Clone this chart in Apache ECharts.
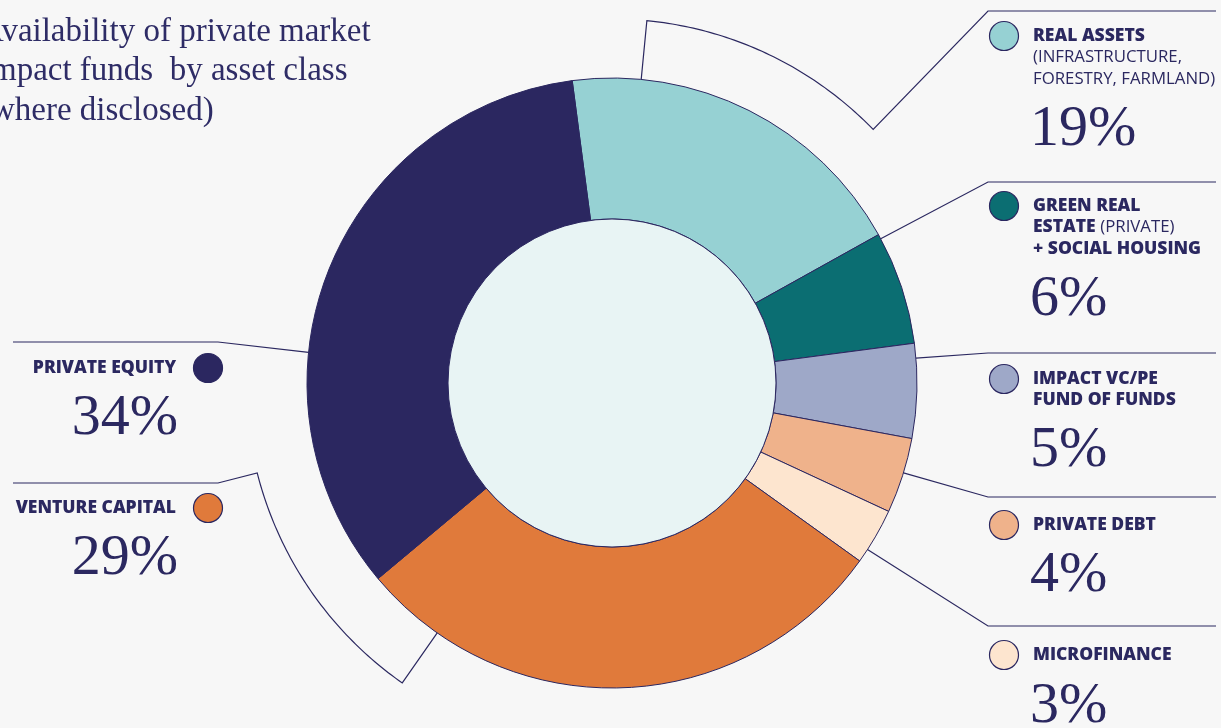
<!DOCTYPE html>
<html><head><meta charset="utf-8">
<script src="https://cdn.jsdelivr.net/npm/echarts@6/dist/echarts.min.js"></script>
<style>html,body{margin:0;padding:0;background:#f7f7f7;overflow:hidden}#c{width:1221px;height:728px}</style>
</head><body><div id="c"></div>
<script>
// ---------- data ----------
const categories = ['Real assets','Green real estate + social housing','Impact VC/PE fund of funds','Private debt','Microfinance','Venture capital','Private equity'];
const values = [19, 6, 5, 4, 3, 29, 34];
const colors = ['#96d1d3','#0b6e72','#9ea8c8','#efb28b','#fde5cf','#e07a3b','#2b2760'];
const labelTexts = [
  '{b|REAL ASSETS}\n{r|(INFRASTRUCTURE,}\n{r|FORESTRY, FARMLAND)}',
  '{b|GREEN REAL}\n{b|ESTATE }{r|(PRIVATE)}\n{b|+ SOCIAL HOUSING}',
  '{b|IMPACT VC/PE}\n{b|FUND OF FUNDS}',
  '{b|PRIVATE DEBT}',
  '{b|MICROFINANCE}',
  '{b|VENTURE CAPITAL}',
  '{b|PRIVATE EQUITY}'
];
const titleLines = ['Availability of private market', 'Impact funds  by asset class', '(where disclosed)'];

// ---------- layout / style ----------
const INK = '#2b2860';
const PIE_CENTER = [612, 383], R_IN = 164, R_OUT = 305, START = 97.5;
const layout = [
  {side:'right', labelY:36,  pctY:130, frac:0.19, bracketR:364, bracketTo:0.78, elbow:[988,11],  endX:1216},
  {side:'right', labelY:206, pctY:300, frac:0.04, elbow:[988,182], endX:1216},
  {side:'right', labelY:379, pctY:451, frac:0.156, elbow:[988,353], endX:1216},
  {side:'right', labelY:525, pctY:576, frac:0.46, elbow:[988,497], endX:1216},
  {side:'right', labelY:655, pctY:707, frac:0.76, elbow:[988,626], endX:1216},
  {side:'left',  labelY:508, pctY:559, frac:0.855, bracketR:366, bracketTo:1.246, elbow:[218,483], endX:13},
  {side:'left',  labelY:368, pctY:419, frac:0.373, elbow:[218,342], endX:13}
];

const chart = echarts.init(document.getElementById('c'), null, {renderer:'canvas'});
chart.setOption({
  backgroundColor:'#f7f7f7',
  animation:false,
  series:[
    {type:'pie', center:PIE_CENTER, radius:[R_IN, R_OUT], startAngle:START, clockwise:true,
     avoidLabelOverlap:false, silent:true, label:{show:false}, labelLine:{show:false},
     itemStyle:{borderColor:'#2b2760', borderWidth:1},
     data: categories.map((n,i)=>({name:n, value:values[i], itemStyle:{color:colors[i]}}))},
    {type:'pie', center:PIE_CENTER, radius:[0, R_IN], silent:true, label:{show:false}, labelLine:{show:false},
     itemStyle:{color:'#e8f4f4', borderColor:'#2b2760', borderWidth:1},
     data:[{name:'hole', value:1}]}
  ]
});

let lay = null;
try {
  const d = chart.getModel().getSeriesByIndex(0).getData();
  lay = values.map((v,i)=>d.getItemLayout(i));
  if (!lay[0] || lay[0].startAngle == null) lay = null;
} catch(e) { lay = null; }
if (!lay) {
  const tot = values.reduce((a,b)=>a+b,0);
  let a = -START*Math.PI/180;
  lay = values.map(v=>{const s=a; a += v/tot*Math.PI*2; return {cx:PIE_CENTER[0],cy:PIE_CENTER[1],r:R_OUT,r0:R_IN,startAngle:s,endAngle:a};});
}
function pt(L, f, r){ const a = L.startAngle + f*(L.endAngle-L.startAngle); return [L.cx + r*Math.cos(a), L.cy + r*Math.sin(a)]; }

const elements = [];
titleLines.forEach((t,k)=>{
  elements.push({type:'text', x:-20, y:32+k*39.5, silent:true,
    style:{text:t, fill:'#2e2c66', fontFamily:'Liberation Serif', fontSize:33, align:'left', verticalAlign:'middle'}});
});
const rich = {
  b:{fontFamily:'Open Sans', fontWeight:800, fontSize:17.5, lineHeight:21.5, fill:INK},
  r:{fontFamily:'Open Sans', fontWeight:'normal', fontSize:16.8, lineHeight:21.5, fill:INK}
};
layout.forEach((c,i)=>{
  const L = lay[i];
  const pts = [pt(L, c.frac, L.r)];
  if (c.bracketR) {
    const n = 60;
    for (let k=0;k<=n;k++) pts.push(pt(L, c.frac + (c.bracketTo-c.frac)*k/n, c.bracketR));
  }
  pts.push(c.elbow.slice());
  pts.push([c.endX, c.elbow[1]]);
  elements.push({type:'polyline', silent:true, z:10, shape:{points:pts}, style:{stroke:INK, lineWidth:1.2, fill:null}});
  const right = c.side === 'right';
  elements.push({type:'circle', silent:true, z:10, shape:{cx: right?1004:208, cy:c.labelY, r:14.5},
    style:{fill:colors[i], stroke:'#2b2760', lineWidth:1.2}});
  elements.push({type:'text', silent:true, z:10, x: right?1033:176, y:c.labelY-10.75,
    style:{text:labelTexts[i], rich:rich, align: right?'left':'right', verticalAlign:'top', fill:INK}});
  elements.push({type:'text', silent:true, z:10, x: right?1030:178, y:c.pctY,
    style:{text: values[i]+'%', fill:INK, fontFamily:'Liberation Serif', fontSize:58, align: right?'left':'right', verticalAlign:'middle'}});
});
chart.setOption({graphic:{elements}});
</script>
</body></html>
